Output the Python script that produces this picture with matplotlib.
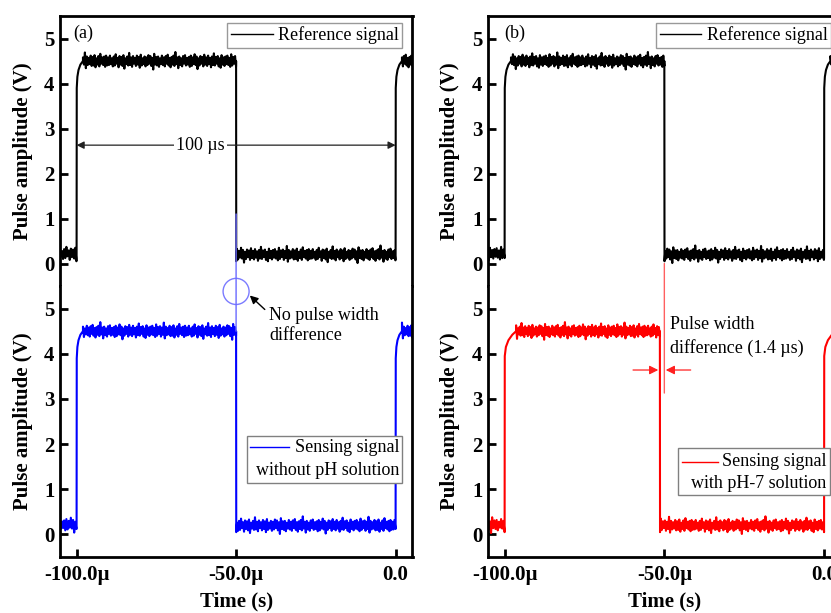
import numpy as np
import matplotlib
matplotlib.use("Agg")
import matplotlib.pyplot as plt
from matplotlib.patches import ConnectionPatch, Ellipse, Rectangle
from matplotlib.lines import Line2D

plt.rcParams['font.family'] = ['Liberation Serif', 'DejaVu Serif']
plt.rcParams['mathtext.fontset'] = 'stix'

# ---------------- data ----------------
t_start_us = -106.0           # trace start (left of axis)
t_rise1_us = -100.0           # first rising edge
t_rise2_us = 0.0              # second rising edge
t_end_us = 7.0                # trace end (right of axis)
fall_ref_us = -50.0           # falling edge, reference signals
fall_blue_us = -50.0          # falling edge, sensing without pH
fall_red_us = -51.4           # falling edge, sensing with pH-7
level_low = 0.20              # V
level_high = 4.50             # V
pre_low = 0.22                # V, level before the first rise
rise_dt_us = [0.0, 0.05, 0.25, 0.6, 1.2, 2.0]
rise_v = [0.12, 3.90, 4.15, 4.30, 4.42, 4.50]
rise_red_dt_us = [0.0, 0.05, 0.4, 1.2, 2.4, 3.6]
rise_red_v = [0.05, 3.95, 4.15, 4.30, 4.42, 4.50]
fall_dt_us = [0.0, 0.05]
fall_v = [4.50, 0.05]

# noise excursions above / below the plateau levels (V)
noise_up = [0.08, 0.12, 0.06, 0.10, 0.15, 0.07, 0.11, 0.09, 0.13, 0.06,
            0.10, 0.18, 0.08, 0.11, 0.07, 0.12, 0.09, 0.14, 0.06, 0.10,
            0.08, 0.13, 0.11, 0.07, 0.16, 0.09, 0.10, 0.06, 0.12, 0.08,
            0.11, 0.14, 0.07, 0.09, 0.12, 0.20, 0.08, 0.10, 0.06, 0.11,
            0.13, 0.07, 0.09, 0.12, 0.08, 0.15, 0.10, 0.06, 0.11, 0.09,
            0.14, 0.08, 0.12, 0.07, 0.10, 0.17, 0.09, 0.11, 0.06, 0.13,
            0.08, 0.10, 0.12, 0.07, 0.15, 0.09, 0.11, 0.08, 0.19, 0.10,
            0.07, 0.12, 0.09, 0.13, 0.06, 0.11, 0.16, 0.08, 0.10, 0.12]
noise_dn = [0.09, 0.07, 0.12, 0.10, 0.06, 0.14, 0.08, 0.11, 0.17, 0.07,
            0.10, 0.09, 0.13, 0.06, 0.11, 0.08, 0.15, 0.10, 0.07, 0.12,
            0.09, 0.06, 0.11, 0.19, 0.08, 0.10, 0.13, 0.07, 0.09, 0.12,
            0.06, 0.10, 0.14, 0.08, 0.11, 0.07, 0.16, 0.09, 0.12, 0.06,
            0.10, 0.08, 0.13, 0.11, 0.07, 0.09, 0.18, 0.10, 0.06, 0.12,
            0.08, 0.11, 0.07, 0.14, 0.09, 0.10, 0.06, 0.12, 0.15, 0.08,
            0.11, 0.07, 0.09, 0.13, 0.10, 0.06, 0.12, 0.08, 0.16, 0.09,
            0.07, 0.11, 0.10, 0.14, 0.08, 0.12, 0.06, 0.09, 0.13, 0.10]

xtick_vals_us = [-100.0, -50.0, 0.0]
xtick_labels = ['-100.0\u00b5', '-50.0\u00b5', '0.0']
ytick_vals = [0, 1, 2, 3, 4, 5]
xlim_us = (-105.2, 5.3)
ylim = (-0.5, 5.5)

# ---------------- trace construction ----------------
def plateau(t0, t1, level, n, k):
    up = np.roll(noise_up, k)[:n]
    dn = np.roll(noise_dn, k)[:n]
    x = np.linspace(t0, t1, 2 * n)
    y = np.empty(2 * n)
    y[0::2] = level + up
    y[1::2] = level - dn
    return list(x), list(y)


def build_trace(t_fall, seed, rdt, rv):
    xs, ys = [], []
    x, y = plateau(t_start_us, t_rise1_us - 0.05, pre_low, 9, seed)
    xs += x; ys += y
    xs += [t_rise1_us + d for d in rdt]; ys += list(rv)
    x, y = plateau(t_rise1_us + rdt[-1], t_fall - 0.02, level_high, 80, seed + 13)
    xs += x; ys += y
    xs += [t_fall + d for d in fall_dt_us]; ys += fall_v
    x, y = plateau(t_fall + 0.3, t_rise2_us - 0.05, level_low, 80, seed + 37)
    xs += x; ys += y
    xs += [t_rise2_us + d for d in rdt]; ys += list(rv)
    x, y = plateau(t_rise2_us + rdt[-1], t_end_us, level_high, 9, seed + 51)
    xs += x; ys += y
    return np.array(xs) * 1e-6, np.array(ys)

ref_a_x, ref_a_y = build_trace(fall_ref_us, 0, rise_dt_us, rise_v)
ref_b_x, ref_b_y = build_trace(fall_ref_us, 23, rise_dt_us, rise_v)
blue_x, blue_y = build_trace(fall_blue_us, 41, rise_dt_us, rise_v)
red_x, red_y = build_trace(fall_red_us, 59, rise_red_dt_us, rise_red_v)

# ---------------- figure ----------------
W, H = 831, 613
fig = plt.figure(figsize=(W / 100, H / 100), dpi=100)

def px_axes(x0, x1, ytop, ybot):
    return fig.add_axes([x0 / W, 1 - ybot / H, (x1 - x0) / W, (ybot - ytop) / H])

ax_a1 = px_axes(60, 412.5, 16, 286)
ax_a2 = px_axes(60, 412.5, 286, 557)
ax_b1 = px_axes(488, 841, 16, 286)
ax_b2 = px_axes(488, 841, 286, 557)

TICKFS = 15
LABFS = 15
TXTFS = 13
TRACE_LW = 1.5

for ax, top in [(ax_a1, True), (ax_a2, False), (ax_b1, True), (ax_b2, False)]:
    ax.set_xlim(xlim_us[0] * 1e-6, xlim_us[1] * 1e-6)
    ax.set_ylim(*ylim)
    for s in ax.spines.values():
        s.set_linewidth(2.0)
    ax.spines['bottom' if top else 'top'].set_visible(False)
    ax.set_yticks(ytick_vals)
    ax.set_yticklabels([str(v) for v in ytick_vals], fontsize=TICKFS, fontweight='bold')
    ax.tick_params(axis='y', direction='in', length=6, width=2, pad=4, right=False)
    if top:
        ax.set_xticks([])
    else:
        ax.set_xticks([v * 1e-6 for v in xtick_vals_us])
        ax.set_xticklabels(xtick_labels, fontsize=TICKFS, fontweight='bold')
        ax.tick_params(axis='x', direction='in', length=6, width=2, pad=6, top=False)
        ax.set_xlabel('Time (s)', fontsize=LABFS, fontweight='bold')
        ax.xaxis.set_label_coords(0.5, -0.128)
    ax.set_ylabel('Pulse amplitude (V)', fontsize=LABFS, fontweight='bold')
    ax.yaxis.set_label_coords(-0.078, 0.5)

# traces
ax_a1.plot(ref_a_x, ref_a_y, color='black', lw=TRACE_LW, label='Reference signal')
ax_b1.plot(ref_b_x, ref_b_y, color='black', lw=TRACE_LW, label='Reference signal')
ax_a2.plot(blue_x, blue_y, color='#0000ff', lw=TRACE_LW)
ax_b2.plot(red_x, red_y, color='#ff0000', lw=TRACE_LW)

# top legends
for ax in (ax_a1, ax_b1):
    w_ax = ax.get_position().width * W
    h_ax = ax.get_position().height * H
    leg = ax.legend(loc='upper right', bbox_to_anchor=(1 - 10 / w_ax, 1 - 6.5 / h_ax),
                    borderaxespad=0, fontsize=TXTFS, frameon=True, fancybox=False,
                    edgecolor='#808080', handlelength=2.3, handletextpad=0.3,
                    borderpad=0.2)
    leg.get_frame().set_linewidth(1.0)
    for h in leg.get_lines():
        h.set_linewidth(1.0)

# panel letters
ax_a1.text(0.037, 0.937, '(a)', transform=ax_a1.transAxes, fontsize=TXTFS,
           ha='left', va='center')
ax_b1.text(0.045, 0.937, '(b)', transform=ax_b1.transAxes, fontsize=TXTFS,
           ha='left', va='center')

# manual two-line legends (Origin style)
def two_line_legend(ax, box, handle, color, line1, line2, y1, y2, xr):
    ax.add_patch(Rectangle((box[0], box[1]), box[2] - box[0], box[3] - box[1],
                           transform=ax.transAxes, facecolor='white',
                           edgecolor='#808080', lw=1.0, zorder=5, clip_on=False))
    ax.add_line(Line2D([handle[0], handle[1]], [y1, y1], transform=ax.transAxes,
                       color=color, lw=1.0, zorder=6))
    ax.text(xr, y1, line1, transform=ax.transAxes, fontsize=TXTFS, ha='right',
            va='center', zorder=6)
    ax.text(xr, y2, line2, transform=ax.transAxes, fontsize=TXTFS, ha='right',
            va='center', zorder=6)

two_line_legend(ax_a2, (0.5305, 0.274, 0.970, 0.4476), (0.539, 0.6505), '#0000ff',
                'Sensing signal', 'without pH solution', 0.405, 0.321, 0.962)
two_line_legend(ax_b2, (0.539, 0.229, 0.970, 0.402), (0.5487, 0.652), '#ff0000',
                'Sensing signal', 'with pH-7 solution', 0.352, 0.272, 0.958)

# 100 us arrow in (a)
ax_a1.annotate('', xy=(t_rise1_us * 1e-6, 2.63), xytext=(t_rise2_us * 1e-6, 2.63),
               arrowprops=dict(arrowstyle='<|-|>', color='#222222', lw=0.9,
                               mutation_scale=11, shrinkA=0, shrinkB=0))
ax_a1.text(-61.3e-6, 2.63, '100 \u00b5s', fontsize=TXTFS, ha='center', va='center',
           bbox=dict(facecolor='white', edgecolor='none', pad=1.5))

# blue guide line + circle in (a)
con = ConnectionPatch(xyA=(fall_blue_us * 1e-6, 1.1), coordsA=ax_a1.transData,
                      xyB=(fall_blue_us * 1e-6, 4.5), coordsB=ax_a2.transData,
                      color='#6a6aff', lw=1.0)
fig.add_artist(con)
ax_a2.add_patch(Ellipse((fall_blue_us * 1e-6, 5.38), 8.15e-6, 0.578, fill=False,
                        edgecolor='#7b7bff', lw=1.0, clip_on=False, zorder=6))
ax_a2.annotate('', xy=(-45.7e-6, 5.29), xytext=(-41.0e-6, 4.98),
               arrowprops=dict(arrowstyle='-|>', color='black', lw=1.0,
                               mutation_scale=12, shrinkA=0, shrinkB=0),
               annotation_clip=False)
ax_a2.text(-39.7e-6, 4.63, 'No pulse width\ndifference', fontsize=TXTFS,
           ha='left', va='center', linespacing=1.2)

# red guide line + arrows in (b)
con2 = ConnectionPatch(xyA=(fall_ref_us * 1e-6, 0.0), coordsA=ax_b1.transData,
                       xyB=(fall_ref_us * 1e-6, 3.13), coordsB=ax_b2.transData,
                       color='#ff6060', lw=1.0)
fig.add_artist(con2)
ax_b2.annotate('', xy=(-51.9e-6, 3.64), xytext=(-59.8e-6, 3.64),
               arrowprops=dict(arrowstyle='-|>', color='#ff2020', lw=0.9,
                               mutation_scale=13, shrinkA=0, shrinkB=0))
ax_b2.annotate('', xy=(-49.56e-6, 3.64), xytext=(-41.75e-6, 3.64),
               arrowprops=dict(arrowstyle='-|>', color='#ff2020', lw=0.9,
                               mutation_scale=13, shrinkA=0, shrinkB=0))
ax_b2.text(-48.2e-6, 4.39, 'Pulse width\ndifference (1.4 \u00b5s)', fontsize=TXTFS,
           ha='left', va='center', linespacing=1.45)

fig.savefig('out.png', dpi=100)
